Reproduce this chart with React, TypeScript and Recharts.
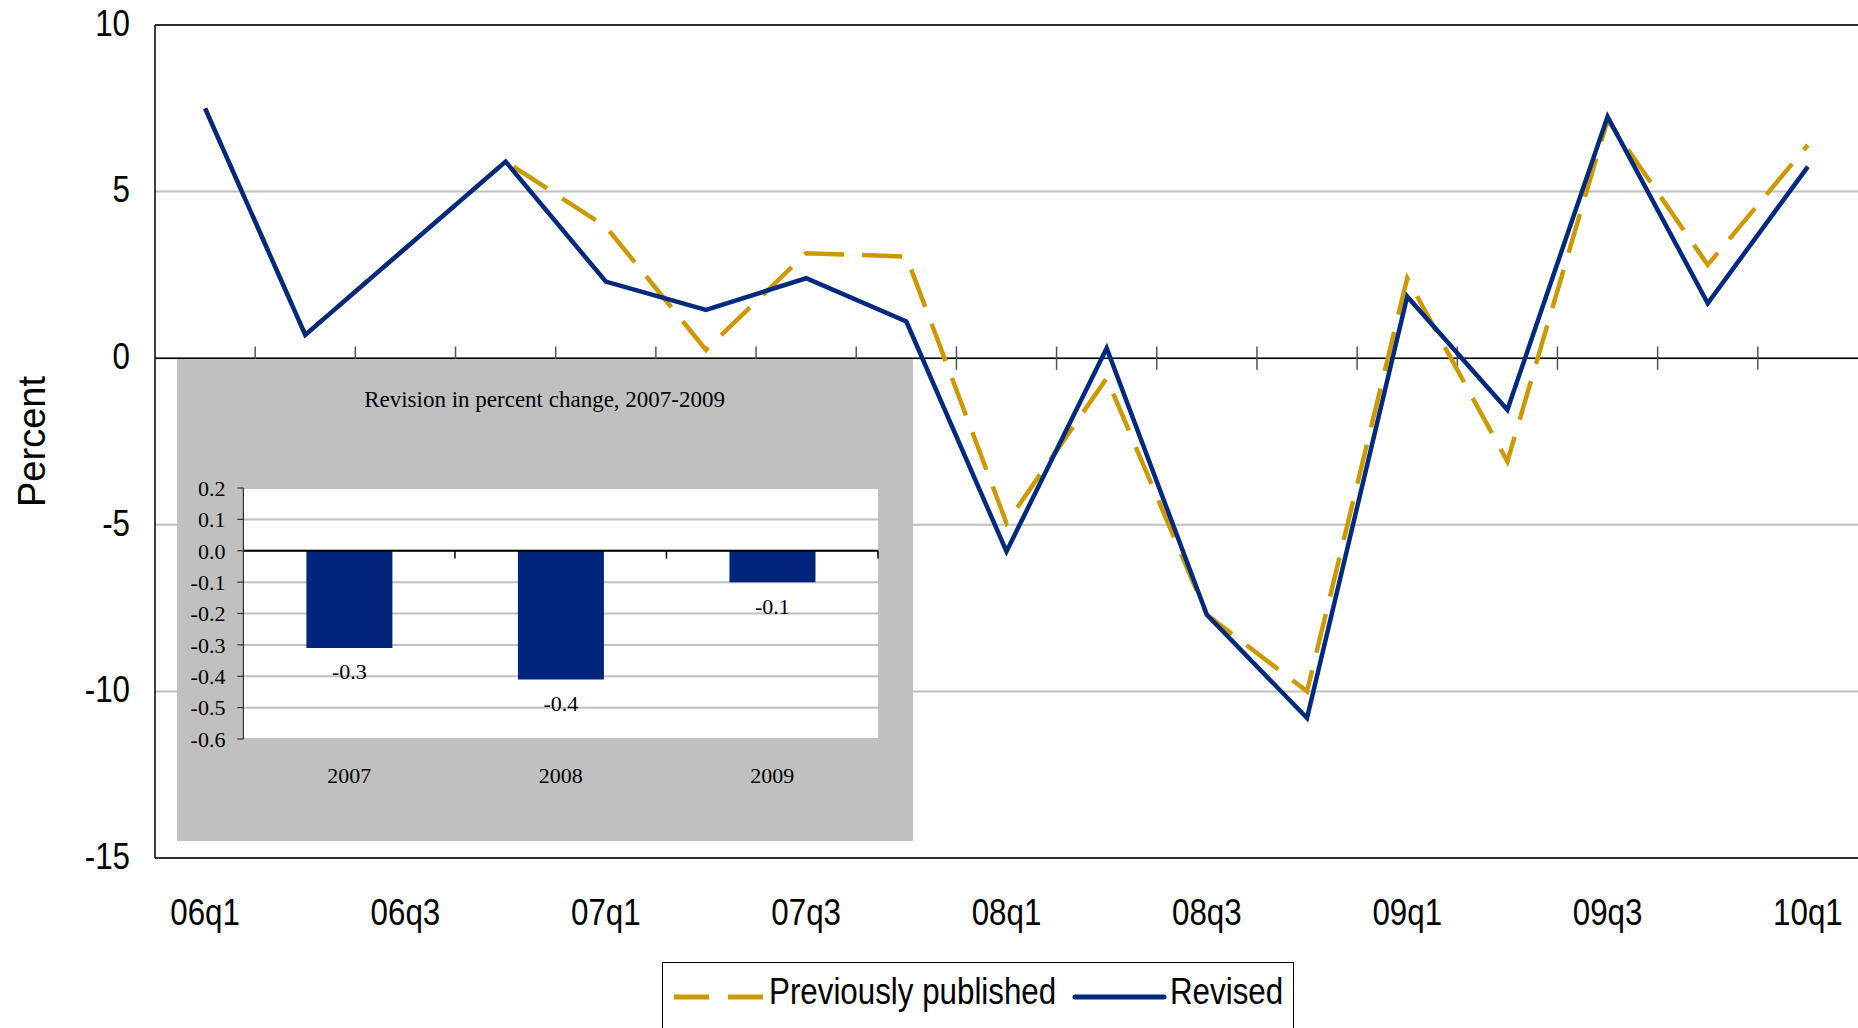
import React from 'react';
import {
  LineChart,
  Line,
  XAxis,
  YAxis,
  CartesianGrid,
  ReferenceLine,
  Legend,
  BarChart,
  Bar,
  LabelList,
} from 'recharts';

// ---------- data ----------
const quarters = ['06q1', '06q2', '06q3', '06q4', '07q1', '07q2', '07q3', '07q4', '08q1', '08q2', '08q3', '08q4', '09q1', '09q2', '09q3', '09q4', '10q1'];
const previouslyPublished = [7.5, 0.7, 3.3, 5.9, 3.95, 0.25, 3.15, 3.05, -4.95, -0.6, -7.7, -10.0, 2.4, -3.1, 7.15, 2.8, 6.4];
const revised = [7.5, 0.7, 3.3, 5.9, 2.3, 1.45, 2.4, 1.1, -5.8, 0.3, -7.7, -10.8, 1.85, -1.55, 7.25, 1.65, 5.75];
const yTicks = [-15, -10, -5, 0, 5, 10];

const insetYears = ['2007', '2008', '2009'];
const insetRevisions = [-0.31, -0.41, -0.1];
const insetTicks = [-0.6, -0.5, -0.4, -0.3, -0.2, -0.1, 0, 0.1, 0.2];

const mainData = quarters.map((q, i) => ({ q, prev: previouslyPublished[i], rev: revised[i] }));
const insetData = insetYears.map((year, i) => ({ year, value: insetRevisions[i] }));

// ---------- style ----------
const W = 1858;
const H = 1028;
const GOLD = '#CC9900';
const NAVY = '#002A7E';
const BAR = '#00257A';
const GRID = '#C0C0C0';
const SANS = '"Liberation Sans", Arial, sans-serif';
const SERIF = '"Liberation Serif", "Times New Roman", serif';

function XTick(props: any) {
  const { x, y, payload } = props;
  return (
    <text
      transform={`translate(${x},${y + 54}) scale(0.87,1)`}
      textAnchor="middle"
      dy="0.35em"
      fontSize={36}
      fontFamily={SANS}
      fill="#000"
    >
      {payload.value}
    </text>
  );
}

function YTick(props: any) {
  const { x, y, payload } = props;
  return (
    <text
      transform={`translate(${x - 25},${y}) scale(0.87,1)`}
      textAnchor="end"
      dy="0.3em"
      fontSize={36}
      fontFamily={SANS}
      fill="#000"
    >
      {payload.value}
    </text>
  );
}

function PercentLabel(props: any) {
  const vb = props.viewBox;
  const cy = vb && typeof vb.y === 'number' ? vb.y + vb.height / 2 : 442;
  return (
    <text
      transform={`translate(31,${cy}) rotate(-90)`}
      textAnchor="middle"
      dy="0.36em"
      fontSize={38}
      fontFamily={SANS}
      fill="#000"
    >
      Percent
    </text>
  );
}

function LegendBox() {
  return (
    <div style={{ position: 'relative', width: W, height: 66 }}>
      <div
        style={{
          position: 'absolute',
          left: 662,
          top: 0,
          width: 632,
          height: 66,
          border: '1.5px solid #000',
          borderBottom: 'none',
          boxSizing: 'border-box',
          background: '#fff',
        }}
      >
        <svg width={629} height={65} style={{ display: 'block' }}>
          <line x1={11} x2={100} y1={34} y2={34} stroke={GOLD} strokeWidth={5} strokeDasharray="35 19" />
          <text transform="translate(106,41) scale(0.87,1)" fontSize={36} fontFamily={SANS} fill="#000">
            Previously published
          </text>
          <line x1={412} x2={501} y1={34} y2={34} stroke={NAVY} strokeWidth={5} strokeLinecap="round" />
          <text transform="translate(507,41) scale(0.87,1)" fontSize={36} fontFamily={SANS} fill="#000">
            Revised
          </text>
        </svg>
      </div>
    </div>
  );
}

function InsetXTick(props: any) {
  const { x, y, payload } = props;
  return (
    <text x={x} y={y + 37} dy="0.34em" textAnchor="middle" fontSize={22} fontFamily={SERIF} fill="#000">
      {payload.value}
    </text>
  );
}

function BarValueLabel(props: any) {
  const { x, y, width, height, value } = props;
  const nx = Number(x);
  const ny = Number(y);
  const nh = Number(height);
  const bottom = Math.max(ny, ny + nh);
  return (
    <text
      x={nx + Number(width) / 2}
      y={bottom + 24}
      dy="0.34em"
      textAnchor="middle"
      fontSize={22}
      fontFamily={SERIF}
      fill="#000"
    >
      {Number(value).toFixed(1)}
    </text>
  );
}

function Inset() {
  const bw = 736;
  const bh = 482;
  return (
    <div
      style={{
        position: 'absolute',
        left: 176.6,
        top: 359.3,
        width: bw,
        height: bh,
        background: GRID,
      }}
    >
      <div
        style={{
          position: 'absolute',
          left: 0,
          top: 28,
          width: bw,
          textAlign: 'center',
          fontFamily: SERIF,
          fontSize: 23,
          lineHeight: '26px',
          color: '#000',
        }}
      >
        Revision in percent change, 2007-2009
      </div>
      <div style={{ position: 'absolute', left: 0, top: 0 }}>
        <BarChart width={bw} height={bh} data={insetData} margin={{ top: 129, right: 35, bottom: 42, left: 0 }}>
          <CartesianGrid vertical={false} fill="#fff" stroke={GRID} strokeWidth={2} />
          <XAxis
            dataKey="year"
            tickLine={false}
            axisLine={false}
            tickSize={0}
            tickMargin={0}
            height={60}
            tick={<InsetXTick />}
          />
          <YAxis
            domain={[-0.6, 0.2]}
            ticks={insetTicks}
            width={66.4}
            tickSize={6}
            tickMargin={12}
            axisLine={{ stroke: '#333', strokeWidth: 1.2 }}
            tickLine={{ stroke: '#333', strokeWidth: 1.2 }}
            tick={{ fontFamily: SERIF, fontSize: 22, fill: '#000' }}
            tickFormatter={(v: number) => v.toFixed(1)}
            allowDataOverflow
          />
          <Bar dataKey="value" fill={BAR} barSize={86} isAnimationActive={false}>
            <LabelList dataKey="value" content={<BarValueLabel />} />
          </Bar>
          <ReferenceLine y={0} stroke="#000" strokeWidth={2} />
          {insetYears.map((yr) => (
            <ReferenceLine
              key={yr}
              segment={[
                { x: yr, y: 0 },
                { x: yr, y: -0.025 },
              ]}
              position="end"
              stroke="#000"
              strokeWidth={1.5}
            />
          ))}
        </BarChart>
      </div>
    </div>
  );
}

export default function App() {
  return (
    <div
      style={{
        position: 'absolute',
        left: 0,
        top: 0,
        width: W,
        height: H,
        background: '#fff',
        overflow: 'hidden',
      }}
    >
      <LineChart width={W} height={H} data={mainData} margin={{ top: 25, right: 0, bottom: 0, left: 0 }}>
        <CartesianGrid vertical={false} stroke={GRID} strokeWidth={2} />
        <XAxis
          dataKey="q"
          scale="band"
          interval={1}
          tickLine={false}
          axisLine={false}
          tickSize={0}
          tickMargin={0}
          height={104}
          tick={<XTick />}
        />
        <YAxis
          domain={[-15, 10]}
          ticks={yTicks}
          width={155}
          tickLine={false}
          tickSize={0}
          tickMargin={0}
          axisLine={{ stroke: '#000', strokeWidth: 1.5 }}
          tick={<YTick />}
          label={<PercentLabel />}
          allowDataOverflow
        />
        <ReferenceLine y={10} stroke="#000" strokeWidth={1.5} />
        <ReferenceLine y={-15} stroke="#000" strokeWidth={1.5} />
        <ReferenceLine y={0} stroke="#000" strokeWidth={1.5} />
        {quarters.slice(0, -1).map((q) => (
          <ReferenceLine
            key={q}
            segment={[
              { x: q, y: -0.35 },
              { x: q, y: 0.35 },
            ]}
            position="end"
            stroke="#555"
            strokeWidth={1.5}
          />
        ))}
        <Line
          type="linear"
          dataKey="prev"
          name="Previously published"
          stroke={GOLD}
          strokeWidth={4.5}
          strokeDasharray="40 18"
          dot={false}
          activeDot={false}
          isAnimationActive={false}
        />
        <Line
          type="linear"
          dataKey="rev"
          name="Revised"
          stroke={NAVY}
          strokeWidth={4.5}
          dot={false}
          activeDot={false}
          isAnimationActive={false}
        />
        <Legend verticalAlign="bottom" height={66} content={<LegendBox />} />
      </LineChart>
      <Inset />
    </div>
  );
}
